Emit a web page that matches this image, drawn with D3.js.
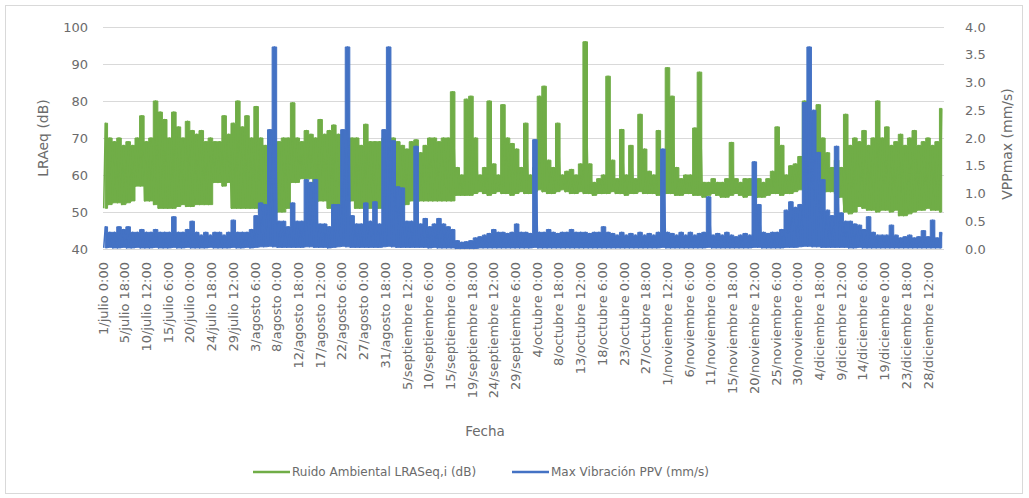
<!DOCTYPE html>
<html><head><meta charset="utf-8">
<script src="https://cdn.jsdelivr.net/npm/d3@7"></script>
<style>
body{margin:0;background:#fff}
svg{display:block}
text{font-family:"DejaVu Sans",sans-serif;fill:#6b6b6b}
</style>
</head><body>
<svg id="c" width="1029" height="498"></svg>
<script>
// ---- data (daily envelope of hourly records) ----
const tickLabels = ["1/julio 0:00","5/julio 18:00","10/julio 12:00","15/julio 6:00","20/julio 0:00","24/julio 18:00","29/julio 12:00","3/agosto 6:00","8/agosto 0:00","12/agosto 18:00","17/agosto 12:00","22/agosto 6:00","27/agosto 0:00","31/agosto 18:00","5/septiembre 12:00","10/septiembre 6:00","15/septiembre 0:00","19/septiembre 18:00","24/septiembre 12:00","29/septiembre 6:00","4/octubre 0:00","8/octubre 18:00","13/octubre 12:00","18/octubre 6:00","23/octubre 0:00","27/octubre 18:00","1/noviembre 12:00","6/noviembre 6:00","11/noviembre 0:00","15/noviembre 18:00","20/noviembre 12:00","25/noviembre 6:00","30/noviembre 0:00","4/diciembre 18:00","9/diciembre 12:00","14/diciembre 6:00","19/diciembre 0:00","23/diciembre 18:00","28/diciembre 12:00"];
const monthNames = ["julio","agosto","septiembre","octubre","noviembre","diciembre"];
const monthDays = [31,31,30,31,30,31];
const leftTicks = [40,50,60,70,80,90,100];
const rightTicks = [0,0.5,1,1.5,2,2.5,3,3.5,4];
const seriesNames = ["Ruido Ambiental LRASeq,i (dB)","Max Vibración PPV (mm/s)"];

// Ruido ambiental: daily max / min (dB)
const greenHi = [74,70,69,70,68,69,68,70,76,69,
70,80,77,75,70,77,73,70,74.5,72,
71,72,69,70,69,69,76,71,74,80,
73,76,70,78.5,70,68,69,68,69,70,
70,79.5,70,69,72,71,70,75,71,72,
73.5,71,70,69,70,70,68,73.7,69,69,
69,70,70,70,69,68,67,69,69.5,66,
68,70,70,69,70,70,82.5,62,60,80.5,
81.3,70,60,62,80,63,60,79,70,68.5,
67,62,74,60,62,81.3,84,64,62,74,
60,61,61.5,60,63,96,63,58,59,60,
86.7,64,59,72.3,60,68,59,76.4,67,61,
60,72,62,89,81.3,62,59,60,60,72.7,
87.8,58,58,59,58,58,59,68.8,59,58,
59,59,58,59,58,59,61,73,68,60,
62.5,63,65,80,70,66,79,70,66,62,
64,62,76.4,68,70,69,72,68,70,80,
70,73,68,69,71,68,70,72,68,69,
70,68,69,78];
const greenLo = [51,52,52.5,52.5,52,52.5,53,57,57,53,
53,52,51,51,51,51,51.5,52,51.5,51.5,
52,52,52,52,58,58,57,58,51,51,
51,51,51,51,50,50,50,50,50,50,
51,58,58,59,59,59,53,53,53,51,
51,51,53,53,53,51,51,51,51,51,
51,51,52,52,52,52,52,53,53,53,
53,53,53,53,53,53,53,54.5,54.5,54.5,
54.5,55,55.5,55,54.5,55,55.5,55,55,54.5,
55,55.5,55,55,55.5,56,55.5,55,55,55.5,
56,55.5,55,55,55.5,55,55,54.5,55,55,
55,55.5,55,55,54.5,55,55,55.5,55,55,
55,54.5,55,55,55,54.5,54.5,55,55,54.5,
54.5,54,54.5,55,54.5,54,54,54.5,55,54.5,
54,54.5,54.5,54,54,54.5,55,55,54.5,55,
55,55.5,56,56,56,55.5,56,56,55.5,55.5,
55,54,50,49.5,50,51.5,51,50.5,50.5,50,
50.5,50.5,50,50.5,49,49,49.5,50,50.5,50.5,
51,50.5,50.5,50];
// Max vibración PPV: daily max / min (mm/s)
const blueHi = [0.4,0.3,0.3,0.4,0.35,0.4,0.3,0.3,0.35,0.3,
0.3,0.35,0.3,0.3,0.3,0.58,0.3,0.3,0.35,0.5,
0.3,0.25,0.3,0.25,0.3,0.3,0.25,0.3,0.52,0.3,
0.3,0.3,0.35,0.6,0.83,0.8,2.15,3.64,0.5,0.5,
0.4,0.83,0.5,0.5,1.25,1.2,1.25,0.45,0.45,0.4,
0.8,0.8,2.15,3.64,0.6,0.45,0.45,0.83,0.5,0.85,
0.45,2.15,3.64,1.95,1.12,1.1,0.5,0.5,1.85,0.45,
0.55,0.4,0.45,0.55,0.45,0.4,0.35,0.15,0.12,0.13,
0.15,0.2,0.22,0.25,0.28,0.35,0.3,0.3,0.28,0.3,
0.45,0.3,0.3,0.28,1.97,0.3,0.3,0.35,0.3,0.28,
0.3,0.3,0.35,0.3,0.3,0.3,0.28,0.3,0.3,0.4,
0.3,0.28,0.25,0.3,0.25,0.28,0.25,0.3,0.25,0.28,
0.25,0.3,1.8,0.3,0.28,0.25,0.3,0.25,0.3,0.25,
0.28,0.3,0.94,0.25,0.28,0.25,0.3,0.25,0.22,0.25,
0.28,0.25,1.57,0.8,0.3,0.28,0.3,0.3,0.35,0.7,
0.85,0.75,0.8,2.64,3.64,2.5,1.74,1.25,0.7,0.6,
1.85,0.65,0.5,0.5,0.45,0.43,0.35,0.58,0.3,0.25,
0.25,0.25,0.43,0.25,0.2,0.22,0.25,0.2,0.22,0.33,
0.22,0.52,0.2,0.3];
const blueLo = [0.02,0.03,0.02,0.02,0.03,0.02,0.02,0.03,0.02,0.02,
0.02,0.03,0.02,0.02,0.02,0.03,0.02,0.02,0.03,0.02,
0.02,0.02,0.02,0.03,0.02,0.02,0.02,0.02,0.03,0.02,
0.02,0.03,0.02,0.03,0.04,0.04,0.05,0.04,0.03,0.03,
0.03,0.03,0.03,0.03,0.04,0.04,0.03,0.03,0.03,0.02,
0.03,0.04,0.05,0.04,0.03,0.03,0.03,0.03,0.03,0.03,
0.03,0.04,0.05,0.04,0.03,0.03,0.03,0.03,0.03,0.03,
0.03,0.02,0.03,0.02,0.02,0.02,0.02,0.01,0.01,0.01,
0.01,0.01,0.02,0.02,0.02,0.02,0.02,0.02,0.02,0.02,
0.02,0.02,0.02,0.02,0.03,0.02,0.02,0.02,0.02,0.02,
0.02,0.02,0.02,0.02,0.02,0.02,0.02,0.02,0.02,0.02,
0.02,0.02,0.02,0.02,0.02,0.02,0.02,0.02,0.02,0.02,
0.02,0.02,0.03,0.02,0.02,0.02,0.02,0.02,0.02,0.02,
0.02,0.02,0.03,0.02,0.02,0.02,0.02,0.02,0.02,0.02,
0.02,0.02,0.03,0.03,0.02,0.02,0.02,0.02,0.02,0.03,
0.03,0.03,0.04,0.05,0.05,0.04,0.04,0.03,0.03,0.03,
0.03,0.03,0.03,0.02,0.02,0.03,0.02,0.02,0.02,0.02,
0.02,0.02,0.02,0.02,0.02,0.02,0.02,0.02,0.02,0.02,
0.02,0.02,0.02,0.02];

// ---- chart ----
const GREEN = "#70ad47", BLUE = "#4472c4";
const svg = d3.select("#c");
const nDays = greenHi.length;
const x = d3.scaleLinear().domain([0, nDays]).range([103, 944]);
const yL = d3.scaleLinear().domain([40, 100]).range([249, 27]);
const yR = d3.scaleLinear().domain([0, 4]).range([249, 27]);

svg.append("rect").attr("x",5.5).attr("y",5.5).attr("width",1017).attr("height",488)
  .attr("fill","#fff").attr("stroke","#d9d9d9");

// gridlines
const grid = svg.append("g").attr("transform","translate(103,0)")
  .call(d3.axisLeft(yL).tickValues(leftTicks).tickSize(-(944-103)).tickFormat(""));
grid.select(".domain").remove();
grid.selectAll("line").attr("stroke","#d9d9d9").attr("stroke-width",1);

// left axis labels
const gl = svg.append("g").attr("transform","translate(103,0)")
  .call(d3.axisLeft(yL).tickValues(leftTicks).tickSize(0).tickPadding(15));
gl.select(".domain").remove();
gl.selectAll("text").attr("font-size",13).attr("fill","#6b6b6b");

// right axis labels
const gr = svg.append("g").attr("transform","translate(944,0)")
  .call(d3.axisRight(yR).tickValues(rightTicks).tickSize(0).tickPadding(21).tickFormat(d3.format(".1f")));
gr.select(".domain").remove();
gr.selectAll("text").attr("font-size",13).attr("fill","#6b6b6b");

// x category labels
function labelPos(s){
  const [dm, hm] = s.split(" ");
  const [d, m] = dm.split("/");
  const mi = monthNames.indexOf(m);
  const off = d3.sum(monthDays.slice(0, mi));
  return off + (+d - 1) + (+hm.split(":")[0]) / 24;
}
svg.append("g").selectAll("text").data(tickLabels).join("text")
  .attr("transform", d => `translate(${x(labelPos(d))},262) rotate(-90)`)
  .attr("text-anchor","end").attr("dy","0.35em").attr("font-size",13)
  .text(d => d);

// series: dense hourly trace drawn as its daily min-max envelope
const idx = d3.range(nDays);
function band(lo, hi, y){
  return d3.area().curve(d3.curveStep)
    .x(i => x(i + 0.5)).y0(i => y(lo[i])).y1(i => y(hi[i]))(idx);
}
function zig(lo, hi, y){
  const p = [];
  idx.forEach(i => { p.push([i + 0.15, lo[i]]); p.push([i + 0.5, hi[i]]); });
  return d3.line().x(d => x(d[0])).y(d => y(d[1]))(p);
}
svg.append("path").attr("d", band(greenLo, greenHi, yL)).attr("fill",GREEN)
  .attr("stroke",GREEN).attr("stroke-width",1).attr("stroke-linejoin","round");
svg.append("path").attr("d", zig(greenLo, greenHi, yL)).attr("fill","none")
  .attr("stroke",GREEN).attr("stroke-width",1.5).attr("stroke-linejoin","round");
svg.append("path").attr("d", band(blueLo, blueHi, yR)).attr("fill",BLUE)
  .attr("stroke",BLUE).attr("stroke-width",1).attr("stroke-linejoin","round");
svg.append("path").attr("d", zig(blueLo, blueHi, yR)).attr("fill","none")
  .attr("stroke",BLUE).attr("stroke-width",1.5).attr("stroke-linejoin","round");

// axis titles
svg.append("text").attr("transform","translate(43,138) rotate(-90)").attr("text-anchor","middle")
  .attr("dy","0.35em").attr("font-size",14).text("LRAeq (dB)");
svg.append("text").attr("transform","translate(1007,144) rotate(-90)").attr("text-anchor","middle")
  .attr("dy","0.35em").attr("font-size",14).text("VPPmax (mm/s)");
svg.append("text").attr("x",485).attr("y",431).attr("text-anchor","middle")
  .attr("dy","0.35em").attr("font-size",13.5).text("Fecha");

// legend
const leg = [{x:253, c:GREEN, t:seriesNames[0]}, {x:512, c:BLUE, t:seriesNames[1]}];
const lg = svg.append("g").selectAll("g").data(leg).join("g")
  .attr("transform", d => `translate(${d.x},472)`);
lg.append("line").attr("x1",0).attr("x2",37).attr("stroke", d => d.c).attr("stroke-width",2.3);
lg.append("text").attr("x",39).attr("dy","0.35em").attr("font-size",12).text(d => d.t);
</script>
</body></html>
